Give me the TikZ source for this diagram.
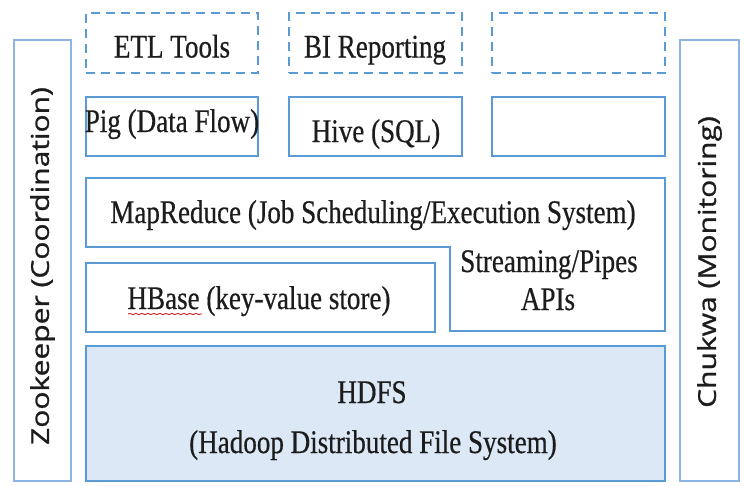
\documentclass[tikz,border=0pt]{standalone}
\usepackage{fontspec}
\setmainfont{Liberation Serif}[FakeStretch=0.82, FakeBold=0.5]
\newfontfamily\sidefont{Open Sans}[FakeBold=0.9]
\usetikzlibrary{decorations.pathmorphing}
\definecolor{boxblue}{RGB}{91,155,213}
\definecolor{sideblue}{RGB}{141,180,226}
\definecolor{hdfsfill}{RGB}{220,232,246}
\definecolor{inkgray}{RGB}{28,28,28}

\begin{document}
\begin{tikzpicture}[x=1pt,y=-1pt,
  layer/.style={draw=boxblue, line width=2.5pt, inner sep=0pt},
  optional/.style={layer, dash pattern=on 9pt off 6pt},
  sidebar/.style={draw=sideblue, line width=2.5pt, inner sep=0pt,
                  minimum width=57pt, minimum height=441pt},
  lbl/.style={font=\fontsize{33}{36}\selectfont, text=inkgray, anchor=base, inner sep=0pt},
  sidelbl/.style={text=inkgray, inner sep=0pt}
]
\useasboundingbox (0,0) rectangle (744,485);

% optional tools row (dashed)
\node[optional, minimum width=172pt, minimum height=60pt] (etl)   at (172,43)   {};
\node[optional, minimum width=173pt, minimum height=60pt] (bi)    at (375.5,43) {};
\node[optional, minimum width=173pt, minimum height=60pt] (spare) at (578.5,43) {};

% high-level languages row
\node[layer, minimum width=172pt, minimum height=59pt] (pig)   at (172,126.5)   {};
\node[layer, minimum width=173pt, minimum height=59pt] (hive)  at (375.5,126.5) {};
\node[layer, minimum width=173pt, minimum height=59pt] (empty) at (578.5,126.5) {};

% MapReduce: L-shaped block wrapping round HBase
\draw[draw=boxblue, line width=2.5pt, line join=miter]
  (86,178) -- (665,178) -- (665,331) -- (450,331) -- (450,247) -- (86,247) -- cycle;

% HBase and HDFS
\node[layer, minimum width=349pt, minimum height=69pt] (hbase) at (260.5,297.5) {};
\node[layer, fill=hdfsfill, minimum width=579pt, minimum height=135pt] (hdfs) at (375.5,413.5) {};

% side bars
\node[sidebar] (zk) at (42.5,260.5) {};
\node[sidebar, minimum width=59pt] (chukwa) at (709.5,260.5) {};

% labels
\node[lbl] (tetl)  at (172,57.5) {ETL Tools};
\node[lbl] (tbi)   at (375,57.5) {BI Reporting};
\node[lbl] (tpig)  at (172,132)  {Pig (Data Flow)};
\node[lbl] (thive) at (376,142)  {Hive (SQL)};
\node[lbl] (tmr)   at (373,223)  {MapReduce (Job Scheduling/Execution System)};
\node[lbl] (thb)   at (259,309)  {HBase (key-value store)};
\node[lbl] (tstr)  at (549,272)  {Streaming/Pipes};
\node[lbl] (tapi)  at (548,310)  {APIs};
\node[lbl] (thd1)  at (372,403)  {HDFS};
\node[lbl] (thd2)  at (373,453)  {(Hadoop Distributed File System)};

% spell-check squiggle under HBase
\draw[red!80!black, line width=0.8pt, decorate,
      decoration={snake, amplitude=0.5pt, segment length=6pt}]
  (128,314) -- (202,314);

% rotated side labels
\node[sidelbl] (tzk) at (42.5,266)
  {\scalebox{0.82}[1]{\rotatebox{90}{\sidefont\fontsize{30}{30}\selectfont Zookeeper (Coordination)}}};
\node[sidelbl] (tch) at (709.5,262)
  {\scalebox{0.82}[1]{\rotatebox{90}{\sidefont\fontsize{30}{30}\selectfont Chukwa (Monitoring)}}};
\end{tikzpicture}
\end{document}
